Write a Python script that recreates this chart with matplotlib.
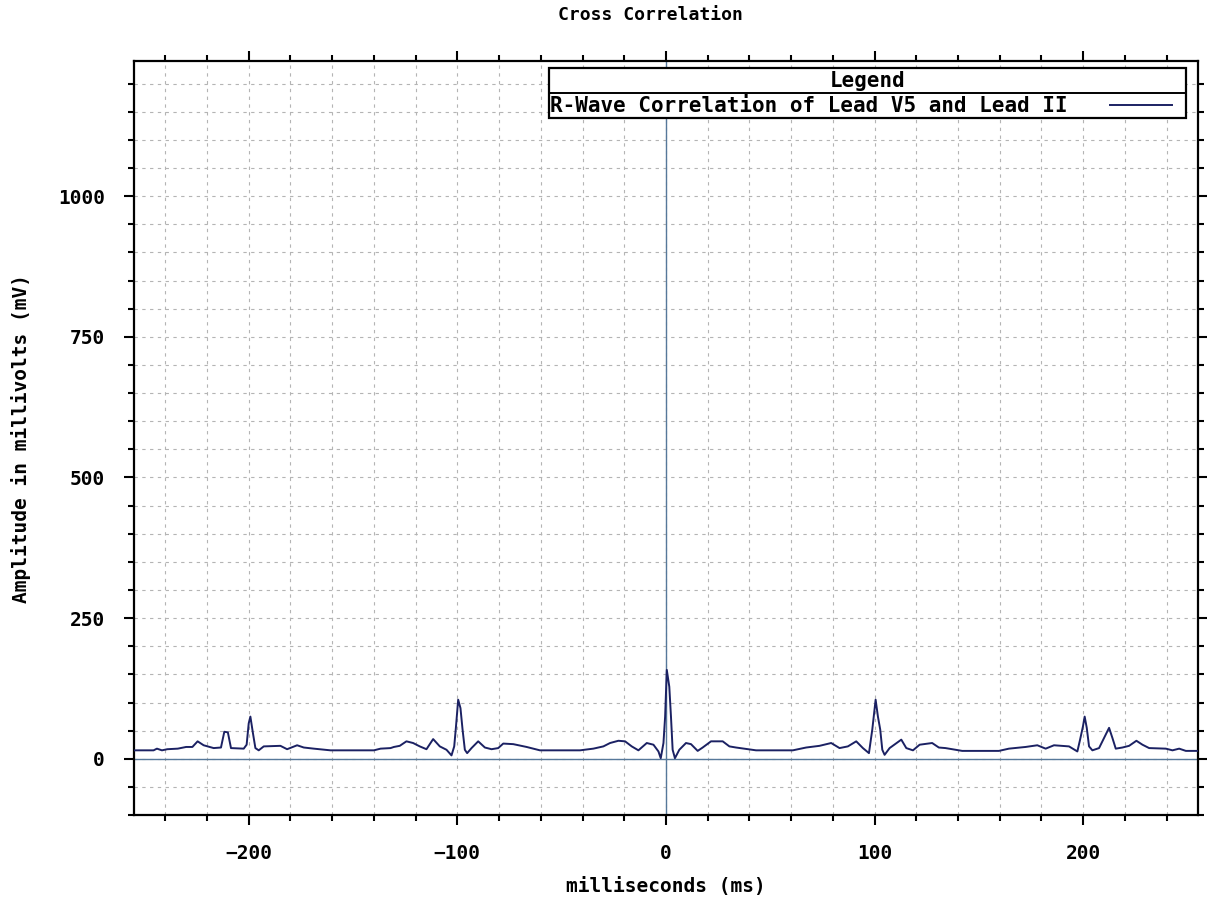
"""Cross correlation of the R-wave in lead V5 against lead II."""
import matplotlib
matplotlib.use("Agg")
import matplotlib.pyplot as plt
from matplotlib.patches import Rectangle
from matplotlib.ticker import MultipleLocator

# lag (ms) and correlation amplitude (mV)
LAG_MS = [-255.2, -245.6, -244.0, -241.6, -239.0, -234.0, -230.0, -227.0, -224.5, -221.6,
          -216.8, -213.3, -211.7, -210.0, -208.5, -202.4, -201.0, -200.0, -199.2, -198.0,
          -196.8, -195.2, -192.8, -184.8, -181.6, -176.8, -173.6, -168.8, -160.8, -140.0,
          -136.8, -132.0, -130.4, -127.6, -124.4, -121.2, -118.0, -114.8, -111.6, -108.4,
          -105.2, -102.8, -101.5, -100.7, -99.6, -98.5, -97.5, -96.4, -95.3, -93.2,
          -90.0, -86.8, -83.6, -80.4, -78.0, -73.2, -66.8, -60.4, -41.2, -34.8,
          -30.0, -26.8, -22.8, -19.6, -16.4, -13.2, -9.2, -6.0, -3.6, -2.5,
          -1.2, -0.4, 0.4, 1.6, 2.4, 3.2, 4.3, 6.4, 9.6, 12.0,
          15.2, 17.6, 21.6, 27.2, 30.4, 33.6, 39.2, 43.2, 60.8, 67.2,
          73.6, 79.2, 83.2, 87.2, 91.2, 94.4, 97.3, 98.9, 100.5, 101.6,
          102.7, 103.7, 104.8, 107.2, 112.8, 115.2, 118.4, 121.6, 127.6, 130.8,
          134.0, 142.0, 159.6, 164.4, 172.4, 178.0, 182.0, 186.0, 193.2, 197.2,
          198.5, 199.9, 200.7, 201.7, 202.8, 204.4, 207.6, 210.8, 212.4, 214.0,
          215.6, 218.8, 222.0, 225.5, 228.4, 231.6, 239.6, 242.8, 246.0, 249.2,
          255.3]
AMP_MV = [15, 15, 18, 15, 17, 18, 21, 21, 31, 24,
          19, 20, 48, 47, 19, 18, 25, 63, 75, 46,
          19, 15, 22, 23, 17, 24, 20, 18, 15, 15,
          18, 19, 21, 23, 31, 28, 22, 17, 35, 22,
          16, 6, 22, 55, 105, 90, 52, 16, 10, 19,
          31, 20, 17, 19, 27, 26, 21, 15, 15, 18,
          22, 28, 32, 31, 22, 15, 28, 25, 13, 1,
          28, 75, 158, 128, 75, 16, 1, 16, 28, 26,
          14, 20, 31, 31, 22, 20, 17, 15, 15, 20,
          23, 28, 19, 22, 31, 19, 10, 52, 105, 75,
          52, 16, 7, 19, 34, 19, 15, 25, 28, 20,
          19, 14, 14, 18, 21, 24, 18, 24, 22, 13,
          34, 58, 75, 55, 22, 15, 19, 43, 55, 37,
          18, 20, 23, 32, 25, 19, 18, 15, 18, 14,
          14]

SERIES_NAME = "R-Wave Correlation of Lead V5 and Lead II"
X_TICKS = [-200, -100, 0, 100, 200]
Y_TICKS = [0, 250, 500, 750, 1000]

FONT = "DejaVu Sans Mono"
LINE_COLOR = "#1b2163"
AXIS_COLOR = "#56789a"

fig = plt.figure(figsize=(12.07, 8.99), dpi=100)
ax = fig.add_axes([0.111, 0.0934, 0.8815, 0.8386])

ax.plot(LAG_MS, AMP_MV, color=LINE_COLOR, linewidth=1.4, zorder=3)
ax.axvline(0, color=AXIS_COLOR, linewidth=1.0, zorder=2)
ax.axhline(0, color=AXIS_COLOR, linewidth=1.0, zorder=2)

ax.set_xlim(-255, 255)
ax.set_ylim(-100, 1240)
ax.set_xticks(X_TICKS)
ax.set_yticks(Y_TICKS)
ax.xaxis.set_minor_locator(MultipleLocator(20))
ax.yaxis.set_minor_locator(MultipleLocator(50))
ax.grid(which="both", color="#b4b4b4", linestyle=(0, (3, 4)), linewidth=0.8)
ax.set_axisbelow(True)

ax.tick_params(which="both", direction="out", top=True, right=True, width=1.5, colors="black")
ax.tick_params(which="major", length=7, pad=14)
ax.tick_params(which="minor", length=4)
for lab in ax.get_xticklabels() + ax.get_yticklabels():
    lab.set_fontfamily(FONT)
    lab.set_fontweight("bold")
    lab.set_fontsize(14)
for sp in ax.spines.values():
    sp.set_linewidth(1.6)

ax.set_xlabel("milliseconds (ms)", fontfamily=FONT, fontweight="bold", fontsize=14, labelpad=10)
ax.set_ylabel("Amplitude in millivolts (mV)", fontfamily=FONT, fontweight="bold", fontsize=14,
              labelpad=19)
fig.text(0.539, 0.983, "Cross Correlation", ha="center", va="center",
         fontfamily=FONT, fontweight="bold", fontsize=13)

# hand-drawn legend box with a title row, like the original
bx0, bx1, by0, by1, bsep = 0.390, 0.989, 0.924, 0.9907, 0.9576
ax.add_patch(Rectangle((bx0, by0), bx1 - bx0, by1 - by0, transform=ax.transAxes,
                       facecolor="white", edgecolor="black", linewidth=1.6, zorder=5))
ax.plot([bx0, bx1], [bsep, bsep], transform=ax.transAxes, color="black", linewidth=1.4, zorder=6)
ax.text((bx0 + bx1) / 2, 0.9735, "Legend", transform=ax.transAxes, ha="center", va="center",
        fontfamily=FONT, fontweight="bold", fontsize=15, zorder=6)
ax.text(bx0 + 0.001, 0.9403, SERIES_NAME, transform=ax.transAxes, ha="left", va="center",
        fontfamily=FONT, fontweight="bold", fontsize=15, zorder=6)
ax.plot([0.917, 0.976], [0.9415, 0.9415], transform=ax.transAxes, color=LINE_COLOR,
        linewidth=1.4, zorder=6)

fig.savefig("out.png", dpi=100)
